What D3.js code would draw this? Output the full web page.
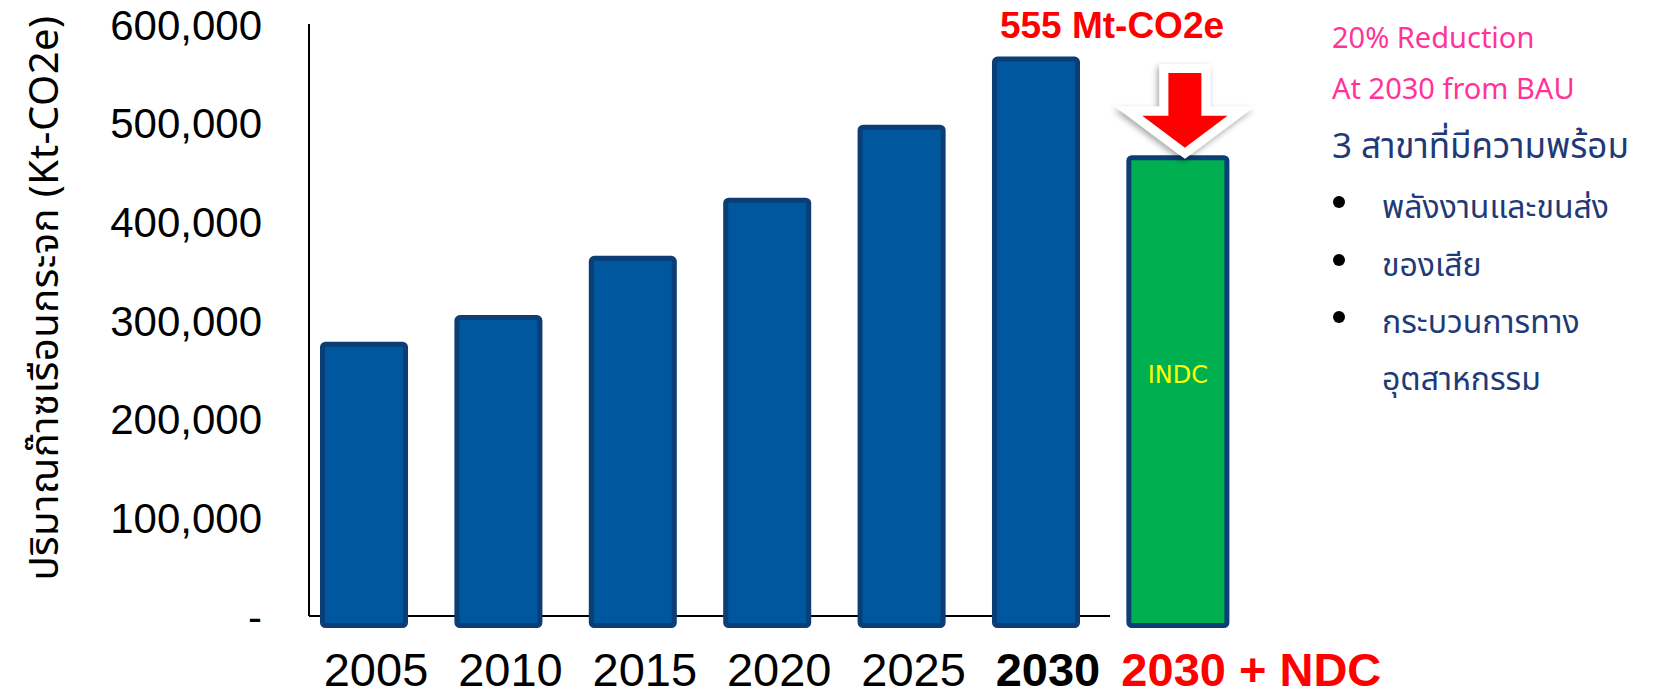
<!DOCTYPE html>
<html>
<head>
<meta charset="utf-8">
<script src="https://cdn.jsdelivr.net/npm/d3@7"></script>
<style>
  body { margin: 0; background: #fff; }
  svg { display: block; }
</style>
</head>
<body>
<script>
// data
const categories = ["2005", "2010", "2015", "2020", "2025", "2030", "2030 + NDC"];
const emissions = [278000, 305000, 365000, 424000, 498000, 567000, 467000];
const yTicks = [0, 100000, 200000, 300000, 400000, 500000, 600000];
const yTitle = "ปริมาณก๊าซเรือนกระจก (Kt-CO2e)";
const topLabel = "555 Mt-CO2e";
const noteLines = ["20% Reduction", "At 2030 from BAU"];
const sectorTitle = "3 สาขาที่มีความพร้อม";
const sectors = [["พลังงานและขนส่ง"], ["ของเสีย"], ["กระบวนการทาง", "อุตสาหกรรม"]];

const W = 1656, H = 699;
const thai = "'Noto Sans Thai', 'Noto Sans Thai Looped', Tahoma, 'Noto Sans', 'DejaVu Sans', sans-serif";

const svg = d3.select(document.body).append("svg")
  .attr("width", W)
  .attr("height", H);

const x = d3.scaleBand()
  .domain(categories)
  .range([320, 1214.4])
  .paddingInner(0.345)
  .paddingOuter(0);

const y = d3.scaleLinear()
  .domain([0, 600000])
  .range([616, 24]);

const data = categories.map((c, i) => ({ cat: c, value: emissions[i], ndc: i === categories.length - 1 }));

// drop shadow for the arrow
const defs = svg.append("defs");
defs.append("filter")
  .attr("id", "shadow")
  .attr("x", "-30%").attr("y", "-30%").attr("width", "160%").attr("height", "160%")
  .append("feDropShadow")
    .attr("dx", -2).attr("dy", 3)
    .attr("stdDeviation", 3)
    .attr("flood-color", "#000")
    .attr("flood-opacity", 0.35);

// axis lines
svg.append("line")
  .attr("x1", 309).attr("x2", 309)
  .attr("y1", y(600000)).attr("y2", y(0))
  .attr("stroke", "#000").attr("stroke-width", 2);
svg.append("line")
  .attr("x1", 309).attr("x2", x("2030") + x.bandwidth() + 30)
  .attr("y1", y(0)).attr("y2", y(0))
  .attr("stroke", "#000").attr("stroke-width", 2);

// y tick labels
svg.append("g")
  .attr("transform", "translate(262,0)")
  .call(d3.axisLeft(y).tickValues(yTicks).tickSize(0).tickPadding(0)
    .tickFormat(d => d === 0 ? "-" : d3.format(",")(d)))
  .call(g => g.select(".domain").remove())
  .selectAll("text")
    .attr("font-family", "'Liberation Sans', Arial, sans-serif")
    .attr("font-size", 42)
    .attr("fill", "#000")
    .attr("dy", "0.36em");

// y title
svg.append("text")
  .attr("transform", `translate(58,${(y(0) + y(600000)) / 2 - 22}) rotate(-90)`)
  .attr("text-anchor", "middle")
  .attr("font-family", thai)
  .attr("font-size", 40)
  .attr("letter-spacing", 0.5)
  .attr("fill", "#000")
  .text(yTitle);

// bars
const sw = 5;
svg.append("g")
  .selectAll("rect")
  .data(data)
  .join("rect")
    .attr("x", d => x(d.cat) + sw / 2)
    .attr("y", d => y(d.value) + sw / 2)
    .attr("width", d => (d.ndc ? x.bandwidth() + 15 : x.bandwidth()) - sw)
    .attr("height", d => y(0) - y(d.value) + 12 - sw)
    .attr("rx", 3)
    .attr("fill", d => d.ndc ? "#00B050" : "#01579E")
    .attr("stroke", "#0A3E74")
    .attr("stroke-width", sw);

// INDC label
const ndc = data[data.length - 1];
const ndcCx = x(ndc.cat) + (x.bandwidth() + 15) / 2;
svg.append("text")
  .attr("x", ndcCx)
  .attr("y", y(ndc.value) + 228)
  .attr("text-anchor", "middle")
  .attr("font-family", "Tahoma, 'DejaVu Sans', sans-serif")
  .attr("font-size", 24)
  .attr("fill", "#FFFF00")
  .text("INDC");

// x labels
svg.append("g")
  .selectAll("text")
  .data(data)
  .join("text")
    .attr("x", d => d.ndc ? x(d.cat) - 5 : x(d.cat) + x.bandwidth() / 2 + 12)
    .attr("y", d => d.ndc ? 686 : 686)
    .attr("text-anchor", d => d.ndc ? "start" : "middle")
    .attr("font-family", d => d.ndc ? "'Liberation Sans', Arial, sans-serif" : "'Liberation Sans Narrow', 'Liberation Sans', sans-serif")
    .attr("font-weight", d => (d.cat === "2030" || d.ndc) ? "bold" : "normal")
    .attr("font-size", d => d.ndc ? 47 : 47)
    .attr("fill", d => d.ndc ? "#FF0000" : "#000")
    .text(d => d.cat);

// 555 label
svg.append("text")
  .attr("x", x("2030") + x.bandwidth() / 2 + 76)
  .attr("y", 38)
  .attr("text-anchor", "middle")
  .attr("font-family", "'Liberation Sans', Arial, sans-serif")
  .attr("font-weight", "bold")
  .attr("font-size", 37)
  .attr("fill", "#FF0000")
  .text(topLabel);

// red arrow
const ax = ndcCx + 7;
const aTop = y(emissions[5]) + 12;
const aTip = y(ndc.value) - 2;
const headY = aTip - 42;
const arrowPts = [
  [ax - 21, aTop], [ax + 21, aTop], [ax + 21, headY], [ax + 56, headY],
  [ax, aTip], [ax - 56, headY], [ax - 21, headY]
];
svg.append("polygon")
  .attr("points", arrowPts.map(p => p.join(",")).join(" "))
  .attr("fill", "#FF0000")
  .attr("stroke", "#fff")
  .attr("stroke-width", 9)
  .attr("stroke-linejoin", "miter")
  .attr("filter", "url(#shadow)");

// right side notes
const nx = 1332;
svg.append("g")
  .selectAll("text")
  .data(noteLines)
  .join("text")
    .attr("x", nx)
    .attr("y", (d, i) => 48 + i * 51)
    .attr("font-family", thai)
    .attr("font-size", 29)
    .attr("fill", "#FF3399")
    .text(d => d);

svg.append("text")
  .attr("x", nx)
  .attr("y", 158)
  .attr("font-family", thai)
  .attr("font-size", 35)
  .attr("fill", "#1F3A78")
  .text(sectorTitle);

const bulletY = [202, 260, 317];
sectors.forEach((lines, i) => {
  svg.append("circle")
    .attr("cx", 1339).attr("cy", bulletY[i]).attr("r", 6)
    .attr("fill", "#000");
  lines.forEach((t, j) => {
    svg.append("text")
      .attr("x", 1382)
      .attr("y", bulletY[i] + 16 + j * 57)
      .attr("font-family", thai)
      .attr("font-size", 32)
      .attr("fill", "#1F3A78")
      .text(t);
  });
});
</script>
</body>
</html>
